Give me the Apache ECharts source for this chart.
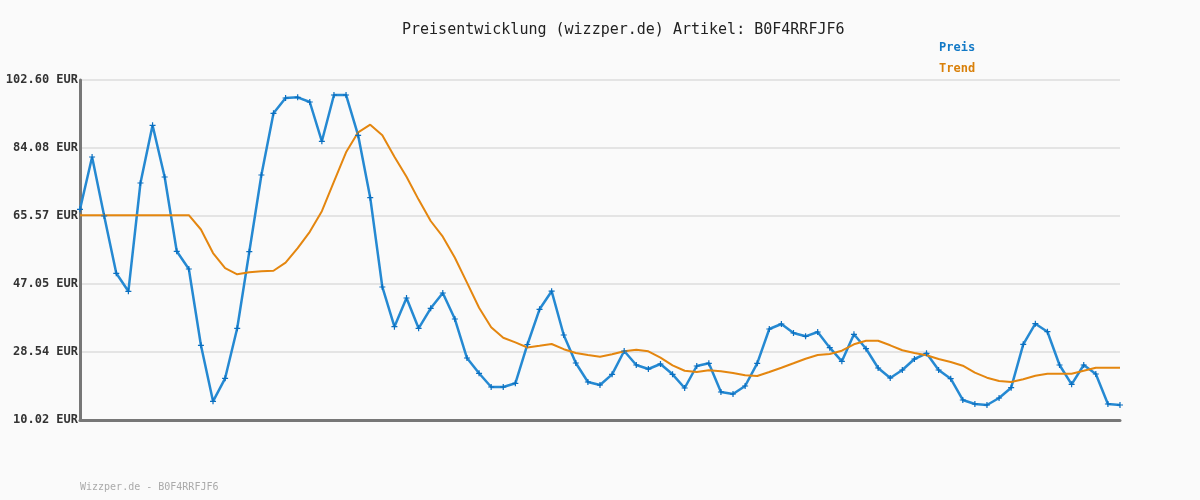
<!DOCTYPE html>
<html>
<head>
<meta charset="utf-8">
<script src="https://cdn.jsdelivr.net/npm/echarts@6/dist/echarts.min.js"></script>
<style>
    html, body { margin: 0; padding: 0; background: #fafafa; }
    #chart { width: 1200px; height: 500px; }
</style>
</head>
<body>
<div id="chart"></div>
<script>
// Preisverlauf, Werte (EUR)
const preis = [
    67.39, 81.63, 65.57, 49.97, 45.06, 74.55, 90.27, 76.19, 55.96, 51.14,
    30.36, 15.11, 21.37, 34.99, 55.85, 76.73, 93.53, 97.70, 97.89, 96.61,
    85.91, 98.52, 98.52, 87.54, 70.55, 46.24, 35.42, 43.24, 34.99, 40.44,
    44.60, 37.52, 26.90, 22.74, 19.01, 19.01, 20.01, 30.58, 40.16, 45.09,
    33.16, 25.54, 20.37, 19.55, 22.46, 28.81, 25.00, 23.91, 25.27, 22.46,
    18.73, 24.72, 25.46, 17.64, 17.10, 19.28, 25.46, 34.80, 36.16, 33.71,
    32.81, 33.98, 29.71, 26.00, 33.36, 29.43, 24.18, 21.46, 23.63, 26.63,
    28.18, 23.63, 21.27, 15.47, 14.38, 14.10, 16.01, 18.82, 30.63, 36.24,
    34.06, 25.00, 19.74, 25.00, 22.55, 14.38, 14.10,
]

const trend = [
    65.8, 65.8, 65.8, 65.8, 65.8, 65.8, 65.8, 65.8, 65.8, 65.8,
    61.89, 55.49, 51.35, 49.69, 50.24, 50.51, 50.67, 52.85, 56.80, 61.27,
    66.87, 74.91, 82.91, 88.36, 90.43, 87.57, 81.69, 76.24, 70.03, 64.21,
    59.93, 54.21, 47.41, 40.60, 35.29, 32.43, 31.15, 29.76, 30.22, 30.71,
    29.30, 28.26, 27.72, 27.26, 27.91, 28.73, 29.16, 28.73, 26.98, 24.91,
    23.44, 23.09, 23.55, 23.28, 22.82, 22.19, 22.00, 23.09, 24.26, 25.46,
    26.71, 27.72, 27.99, 28.89, 30.63, 31.61, 31.61, 30.36, 29.00, 28.26,
    27.64, 26.63, 25.81, 24.81, 22.90, 21.54, 20.64, 20.37, 21.10, 22.08,
    22.63, 22.63, 22.63, 23.44, 24.26, 24.26, 24.26,
]

const tage = preis.map((_, i) => String(i + 1))

// Achse: 10.02 .. 102.60 in 5 Schritten
const yMin = 10.02
const yMax = 102.6
const yStep = 18.516

const font = 'DejaVu Sans Mono'
const blau = '#2589d2'
const orange = '#e4860f'

const chart = echarts.init(document.getElementById('chart'))

chart.setOption({
    backgroundColor: '#fafafa',
    animation: false,
    title: {
        text: 'Preisentwicklung (wizzper.de) Artikel: B0F4RRFJF6',
        left: 402,
        top: 23,
        padding: 0,
        textStyle: {
            fontFamily: font,
            fontSize: 15,
            fontWeight: 'normal',
            color: '#222',
        },
    },
    legend: {
        orient: 'vertical',
        left: 934,
        top: 42,
        padding: 0,
        itemGap: 9,
        itemWidth: 0,
        itemHeight: 0,
        icon: 'none',
        textStyle: {
            fontFamily: font,
            fontSize: 12,
            fontWeight: 'bold',
        },
        data: [
            { name: 'Preis', textStyle: { color: '#1279c6' } },
            { name: 'Trend', textStyle: { color: '#d9800a' } },
        ],
    },
    grid: {
        left: 80,
        right: 80,
        top: 80,
        bottom: 80,
    },
    xAxis: {
        type: 'category',
        data: tage,
        boundaryGap: false,
        axisLine: { lineStyle: { color: '#777', width: 3 } },
        axisTick: { show: false },
        axisLabel: { show: false },
        splitLine: { show: false },
    },
    yAxis: {
        type: 'value',
        min: yMin,
        max: yMax,
        interval: yStep,
        axisLine: { show: true, lineStyle: { color: '#777', width: 3 } },
        axisTick: { show: false },
        axisLabel: {
            fontFamily: font,
            fontSize: 12,
            fontWeight: 'bold',
            color: '#333',
            margin: 2,
            formatter: (v) => v.toFixed(2) + ' EUR',
        },
        splitLine: { lineStyle: { color: '#e4e4e4', width: 2 } },
    },
    graphic: [
        {
            type: 'text',
            left: 80,
            top: 482,
            style: {
                text: 'Wizzper.de - B0F4RRFJF6',
                fontFamily: font,
                fontSize: 10,
                fill: '#aaa',
            },
        },
    ],
    series: [
        {
            name: 'Preis',
            type: 'line',
            data: preis,
            symbol: 'path://M2,0H3V2H5V3H3V5H2V3H0V2H2Z',
            symbolSize: 6,
            showAllSymbol: true,
            lineStyle: { color: blau, width: 2.5 },
            itemStyle: { color: '#0a6fc0', borderWidth: 0 },
        },
        {
            name: 'Trend',
            type: 'line',
            data: trend,
            symbol: 'none',
            lineStyle: { color: orange, width: 2 },
            itemStyle: { color: orange },
        },
    ],
})
</script>
</body>
</html>
